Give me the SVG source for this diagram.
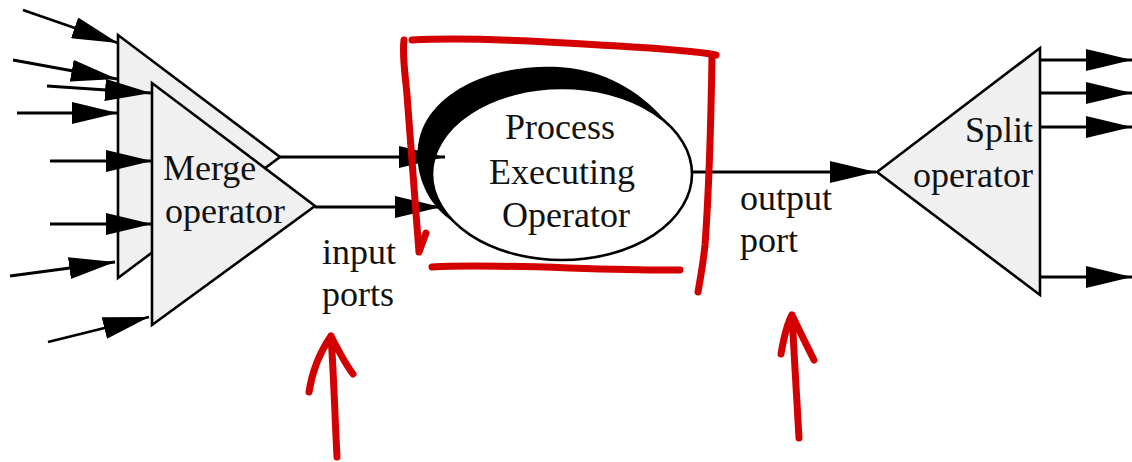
<svg xmlns="http://www.w3.org/2000/svg" width="1132" height="462" viewBox="0 0 1132 462">
  <style>
    .lbl { font-family: "Liberation Serif", "Times New Roman", serif; font-size: 36px; fill: #111; }
    .tri { fill: #f0f0f0; stroke: #000; stroke-width: 2.6; stroke-linejoin: miter; }
    .edge { stroke: #000; stroke-width: 2.8; fill: none; }
    .ink { stroke: #d40000; stroke-width: 7; fill: none; stroke-linecap: round; stroke-linejoin: round; }
  </style>
  <defs>
    <marker id="head" viewBox="0 0 46 22" refX="46" refY="11" markerWidth="46" markerHeight="22" markerUnits="userSpaceOnUse" orient="auto">
      <path d="M0,0 L46,11 L0,22 Z" fill="#000"/>
    </marker>
  </defs>

  <rect width="1132" height="462" fill="#fff"/>

  <!-- merge operator: stacked triangles -->
  <g id="merge-back">
    <polygon class="tri" points="118,35 118,278 280,157"/>
  </g>
  <g id="merge-front">
    <polygon class="tri" points="152,83 152,325 315,206"/>
    <text class="lbl" x="163" y="180">Merge</text>
    <text class="lbl" x="165" y="223">operator</text>
  </g>

  <!-- process executing operator: heavy loop band behind a white ellipse -->
  <g id="process">
    <path d="M452,221 C420,200 405,150 430,115 C458,76 520,62 570,68 C610,73 645,95 668,124 L560,174 Z" fill="#000"/>
    <ellipse cx="562" cy="174" rx="130" ry="86" fill="#fff" stroke="#000" stroke-width="2.6"/>
    <text class="lbl" x="560" y="139" text-anchor="middle">Process</text>
    <text class="lbl" x="562" y="184" text-anchor="middle">Executing</text>
    <text class="lbl" x="566" y="227" text-anchor="middle">Operator</text>
  </g>

  <!-- split operator -->
  <g id="split">
    <polygon class="tri" points="877,172 1040,48 1040,295"/>
    <text class="lbl" x="1033" y="142" text-anchor="end">Split</text>
    <text class="lbl" x="1033" y="187" text-anchor="end">operator</text>
  </g>

  <!-- port labels -->
  <g id="input-ports">
    <text class="lbl" x="322" y="264">input</text>
    <text class="lbl" x="322" y="306">ports</text>
  </g>
  <g id="output-port">
    <text class="lbl" x="740" y="210">output</text>
    <text class="lbl" x="740" y="252">port</text>
  </g>

  <!-- connectors -->
  <g id="connectors" marker-end="url(#head)">
    <line class="edge" x1="23" y1="10" x2="118" y2="43"/>
    <line class="edge" x1="13" y1="60" x2="117" y2="79"/>
    <line class="edge" x1="47" y1="86" x2="151" y2="93"/>
    <line class="edge" x1="17" y1="113" x2="118" y2="113"/>
    <line class="edge" x1="50" y1="161" x2="152" y2="161"/>
    <line class="edge" x1="50" y1="224" x2="152" y2="224"/>
    <line class="edge" x1="10" y1="276" x2="115" y2="262"/>
    <line class="edge" x1="48" y1="342" x2="149" y2="317"/>
    <line class="edge" x1="280" y1="157" x2="445" y2="157"/>
    <line class="edge" x1="315" y1="207" x2="441" y2="207"/>
    <line class="edge" x1="692" y1="172" x2="876" y2="172"/>
    <line class="edge" x1="1040" y1="60" x2="1132" y2="60"/>
    <line class="edge" x1="1040" y1="93" x2="1132" y2="93"/>
    <line class="edge" x1="1040" y1="127" x2="1132" y2="127"/>
    <line class="edge" x1="1040" y1="277" x2="1132" y2="277"/>
  </g>

  <!-- red pen annotations -->
  <g id="annotations">
    <path class="ink" d="M404,40 C402,55 405,72 407,95 C411,150 415,200 419,252 M419,252 L426,233"/>
    <path class="ink" d="M412,40 C470,37 540,41 600,45 C650,48 690,50 716,55"/>
    <path class="ink" d="M712,57 C711,120 709,190 705,245 C703,265 700,280 698,292"/>
    <path class="ink" d="M432,267 C500,263 600,271 680,270"/>
    <path class="ink" d="M337,457 C335,420 334,380 331,336 M309,392 C312,372 320,352 331,336 C338,350 344,362 353,374"/>
    <path class="ink" d="M799,438 C797,400 794,355 792,315 M781,354 C784,336 787,324 792,315 C799,330 806,344 814,360"/>
  </g>
</svg>
